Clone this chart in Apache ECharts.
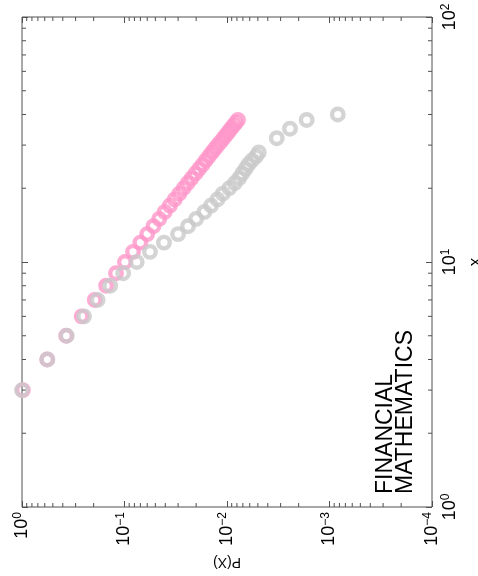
<!DOCTYPE html>
<html>
<head>
<meta charset="utf-8">
<script src="https://cdn.jsdelivr.net/npm/echarts@6/dist/echarts.min.js"></script>
<style>
  html, body { margin: 0; padding: 0; background: #ffffff; }
  #chart { width: 478px; height: 576px; }
</style>
</head>
<body>
<div id="chart"></div>
<script>
// Empirical complementary distribution (gray rings)
const grayX = [3, 4, 5, 6, 7, 8, 9, 10, 11, 12, 13, 14, 15, 16, 17, 18, 19, 20,
               21, 22, 23, 24, 25, 26, 27, 28, 32, 35, 38, 40];
const grayP = [1.0, 0.567, 0.366, 0.248, 0.183, 0.138, 0.103, 0.0760, 0.0564, 0.0412,
               0.0300, 0.0240, 0.0200, 0.0166, 0.0143, 0.0124, 0.0110, 0.0095,
               0.0084, 0.0076, 0.0071, 0.0066, 0.0062, 0.0057, 0.0052, 0.0049,
               0.00327, 0.00243, 0.00167, 0.00083];

// Power-law reference distribution (pink rings)
const pinkX = [3, 4, 5, 6, 7, 8, 9, 10, 11, 12, 13, 14, 15, 16, 17, 18, 19, 20,
               21, 22, 23, 24, 25, 26, 27, 28, 29, 30, 31, 32, 33, 34, 35, 36, 37, 38];
const pinkP = [0.98, 0.567, 0.371, 0.262, 0.195, 0.151, 0.121, 0.0990, 0.0826, 0.0700,
               0.0601, 0.0522, 0.0458, 0.0405, 0.0361, 0.0324, 0.0292, 0.0265,
               0.0242, 0.0221, 0.0203, 0.0187, 0.0173, 0.0161, 0.0150, 0.0140,
               0.0131, 0.0123, 0.0115, 0.0108, 0.0102, 0.00966, 0.00914, 0.00866,
               0.00822, 0.00781];

// Axis ranges (decades) and minor tick multipliers
const pRange = [1e-4, 1];
const xRange = [1, 100];
const pDecades = [-4, -3, -2, -1];
const xDecades = [0, 1];
const minorMultipliers = [2, 3, 4, 5, 6, 7, 8, 9];

const annotationLines = ['FINANCIAL', 'MATHEMATICS'];

const FRAME = '#505050';
const FONT = '"Liberation Sans", Arial, sans-serif';

// minor tick items: [P, x, side]  side: 0 bottom, 1 top, 2 left, 3 right
const minorTicks = [];
pDecades.forEach(d => minorMultipliers.forEach(m => {
  const v = m * Math.pow(10, d);
  minorTicks.push([v, xRange[0], 0]);
  minorTicks.push([v, xRange[1], 1]);
}));
xDecades.forEach(d => minorMultipliers.forEach(m => {
  const v = m * Math.pow(10, d);
  minorTicks.push([pRange[1], v, 2]);
  minorTicks.push([pRange[0], v, 3]);
}));

function renderMinorTick(params, api) {
  const side = api.value(2);
  const pt = api.coord([api.value(0), api.value(1)]);
  const len = 4;
  let dx = 0, dy = 0;
  if (side === 0) dy = -len;
  else if (side === 1) dy = len;
  else if (side === 2) dx = len;
  else dx = -len;
  return {
    type: 'line',
    shape: { x1: pt[0], y1: pt[1], x2: pt[0] + dx, y2: pt[1] + dy },
    style: { stroke: FRAME, lineWidth: 1 }
  };
}

const powerLabel = v => '{b|10}{s|' + String(Math.round(Math.log10(v))).replace('-', '\u2212') + '}';
const labelRich = {
  b: { fontSize: 18, fontFamily: FONT, color: '#000', lineHeight: 20 },
  s: { fontSize: 12, fontFamily: FONT, color: '#000', verticalAlign: 'top', lineHeight: 20 }
};

function logAxis(range, position, extra) {
  return Object.assign({
    type: 'log',
    logBase: 10,
    min: range[0],
    max: range[1],
    position: position,
    axisLine: { show: false },
    axisTick: { show: true, inside: true, length: 6, lineStyle: { color: FRAME, width: 1 } },
    splitLine: { show: false },
    minorTick: { show: false },
    axisLabel: { show: false }
  }, extra);
}

const chart = echarts.init(document.getElementById('chart'), null, { renderer: 'canvas' });

chart.setOption({
  animation: false,
  backgroundColor: '#ffffff',
  grid: {
    left: 22, right: 46, top: 17, bottom: 69,
    outerBoundsMode: 'none',
    containLabel: false,
    show: true, borderColor: FRAME, borderWidth: 1, backgroundColor: 'transparent'
  },
  xAxis: [
    logAxis(pRange, 'bottom', {
      inverse: true,
      name: 'P(X)',
      nameLocation: 'middle',
      nameGap: 48,
      nameRotate: 180,
      nameTextStyle: { fontSize: 14, fontFamily: FONT, color: '#000' },
      axisLabel: { show: true, rotate: 90, margin: 5, formatter: powerLabel, rich: labelRich }
    }),
    logAxis(pRange, 'top', { inverse: true })
  ],
  yAxis: [
    logAxis(xRange, 'right', {
      name: 'x',
      nameLocation: 'middle',
      nameGap: 30,
      nameRotate: 90,
      nameTextStyle: { fontSize: 17, fontFamily: FONT, color: '#000' },
      axisLabel: { show: true, rotate: 90, margin: 8, formatter: powerLabel, rich: labelRich }
    }),
    logAxis(xRange, 'left', {})
  ],
  graphic: [{
    type: 'text',
    x: 376,
    y: 494,
    rotation: Math.PI / 2,
    style: {
      text: annotationLines.join('\n'),
      font: '23px ' + FONT,
      fill: '#000',
      align: 'left',
      verticalAlign: 'top',
      lineHeight: 20
    }
  }],
  series: [
    {
      type: 'custom',
      xAxisIndex: 0,
      yAxisIndex: 0,
      renderItem: renderMinorTick,
      data: minorTicks,
      encode: { x: 0, y: 1 },
      clip: false,
      silent: true
    },
    {
      name: 'model',
      type: 'scatter',
      xAxisIndex: 0,
      yAxisIndex: 0,
      clip: false,
      symbol: 'circle',
      symbolSize: 11.5,
      itemStyle: { color: 'rgba(0,0,0,0)', borderColor: '#ff97c9', borderWidth: 4.4 },
      data: pinkX.map((x, i) => [pinkP[i], x])
    },
    {
      name: 'data',
      type: 'scatter',
      xAxisIndex: 0,
      yAxisIndex: 0,
      clip: false,
      symbol: 'circle',
      symbolSize: 11.5,
      itemStyle: { color: 'rgba(0,0,0,0)', borderColor: '#c9c9c9', borderWidth: 4.4 },
      data: grayX.map((x, i) => [grayP[i], x])
    }
  ]
});
</script>
</body>
</html>
